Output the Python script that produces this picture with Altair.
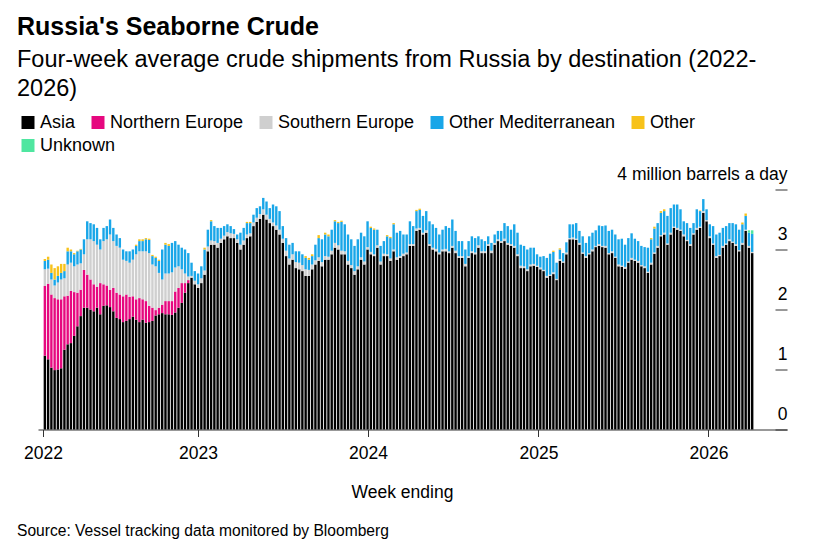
import altair as alt
import pandas as pd

# ---------------- data (million barrels a day, four-week averages) ----------------
first_week = "2022-02-06"   # week ending dates, weekly

series_names = ["Asia", "Northern Europe", "Southern Europe",
                "Other Mediterranean", "Other", "Unknown"]
series_colors = ["#000000", "#e6087f", "#cfcfcf", "#19a6e8", "#f7c21a", "#4fe6a0"]

asia = [
    1.23, 1.17, 1.03, 0.99, 1.00, 1.02, 1.33, 1.42, 1.44, 1.56,
    1.72, 1.89, 2.03, 2.03, 2.00, 1.97, 2.03, 1.92, 2.06, 2.07,
    2.04, 1.97, 1.86, 1.84, 1.79, 1.81, 1.84, 1.88, 1.83, 1.79,
    1.83, 1.78, 1.79, 1.81, 1.90, 1.92, 1.94, 1.92, 1.92, 1.91,
    1.95, 2.03, 2.11, 2.28, 2.44, 2.53, 2.42, 2.36, 2.44, 2.58,
    2.97, 3.08, 3.08, 3.03, 3.11, 3.17, 3.22, 3.19, 3.19, 3.11,
    3.00, 3.08, 3.19, 3.22, 3.39, 3.46, 3.51, 3.58, 3.50, 3.44,
    3.39, 3.33, 3.25, 3.11, 2.89, 2.75, 2.83, 2.69, 2.67, 2.64,
    2.56, 2.56, 2.67, 2.75, 2.81, 2.72, 2.83, 2.83, 2.92, 3.03,
    3.00, 2.92, 2.92, 2.75, 2.69, 2.58, 2.67, 2.83, 2.75, 3.00,
    2.92, 2.89, 3.03, 2.75, 2.89, 2.89, 2.81, 2.97, 2.83, 2.86,
    2.89, 2.92, 3.06, 3.06, 3.31, 3.33, 3.25, 3.28, 3.06, 3.00,
    2.97, 2.92, 2.97, 2.97, 2.94, 3.03, 2.94, 2.86, 2.86, 2.72,
    2.86, 2.94, 2.92, 3.03, 2.94, 2.94, 3.06, 2.94, 3.08, 3.14,
    3.11, 3.14, 3.08, 3.06, 3.03, 2.89, 2.69, 2.69, 2.64, 2.72,
    2.73, 2.71, 2.67, 2.64, 2.53, 2.56, 2.59, 2.49, 2.81, 2.78,
    2.92, 3.17, 3.17, 3.16, 3.08, 2.93, 2.86, 2.92, 2.97, 3.04,
    3.06, 3.04, 3.03, 2.92, 2.94, 2.86, 2.72, 2.71, 2.68, 2.78,
    2.83, 2.81, 2.78, 2.72, 2.69, 2.61, 2.75, 2.93, 3.03, 3.22,
    3.25, 3.08, 3.25, 3.36, 3.33, 3.31, 3.22, 3.14, 3.06, 3.25,
    3.33, 3.36, 3.61, 3.47, 3.19, 3.08, 2.86, 2.89, 3.03, 3.08,
    3.14, 3.11, 3.06, 2.97, 3.08, 3.31, 3.03, 2.94,
]

northern_europe = [
    1.16, 1.26, 1.22, 1.20, 1.17, 1.15, 0.89, 0.81, 0.87, 0.73,
    0.56, 0.44, 0.63, 0.55, 0.50, 0.45, 0.35, 0.52, 0.36, 0.33,
    0.29, 0.39, 0.42, 0.41, 0.43, 0.44, 0.37, 0.34, 0.34, 0.40,
    0.34, 0.36, 0.27, 0.22, 0.09, 0.11, 0.14, 0.22, 0.22, 0.23,
    0.35, 0.33, 0.33, 0.16, 0.05,
] + [0.0] * 173

southern_europe = [
    0.28, 0.25, 0.25, 0.21, 0.28, 0.33, 0.30, 0.52, 0.47, 0.43,
    0.47, 0.44, 0.26, 0.59, 0.67, 0.72, 0.70, 0.56, 0.72, 0.77,
    0.92, 0.78, 0.78, 0.78, 0.61, 0.56, 0.57, 0.61, 0.75, 0.78,
    0.80, 0.83, 0.88, 0.72, 0.73, 0.58, 0.42, 0.46, 0.46, 0.48,
    0.40, 0.36, 0.23, 0.16, 0.06, 0.03, 0.06, 0.06, 0.08, 0.07,
    0.08, 0.07, 0.06, 0.08, 0.07, 0.06, 0.07, 0.08, 0.07, 0.06,
    0.08, 0.07, 0.06, 0.05, 0.06, 0.07, 0.08, 0.09, 0.08, 0.07,
    0.06, 0.07, 0.08, 0.07, 0.09, 0.10, 0.09, 0.10, 0.11, 0.10,
    0.11, 0.10, 0.08, 0.07, 0.06, 0.07, 0.06, 0.05, 0.06, 0.08,
    0.07, 0.06, 0.05, 0.06, 0.05, 0.06, 0.05, 0.04, 0.05, 0.04,
    0.04, 0.03, 0.04, 0.05, 0.04, 0.03, 0.04, 0.03, 0.04, 0.03,
    0.04, 0.03, 0.03, 0.03, 0.04, 0.03, 0.03, 0.04, 0.03, 0.03,
    0.04, 0.03, 0.03, 0.04, 0.03, 0.03, 0.04, 0.03, 0.03, 0.04,
    0.03, 0.03, 0.03, 0.04, 0.03, 0.03, 0.03, 0.04, 0.03, 0.03,
    0.03, 0.04, 0.03, 0.03, 0.03, 0.03, 0.04, 0.03, 0.03, 0.03,
    0.03, 0.02, 0.03, 0.02, 0.03, 0.02, 0.03, 0.02, 0.03, 0.02,
    0.03, 0.02, 0.03, 0.02, 0.03, 0.02, 0.03, 0.02, 0.03, 0.02,
    0.03, 0.02, 0.03, 0.02, 0.03, 0.02, 0.03, 0.02, 0.03, 0.02,
    0.03, 0.02, 0.03, 0.02, 0.03, 0.02, 0.03, 0.02, 0.03, 0.02,
    0.03, 0.02, 0.03, 0.02, 0.03, 0.02, 0.03, 0.02, 0.03, 0.02,
    0.03, 0.02, 0.03, 0.02, 0.03, 0.02, 0.03, 0.02, 0.03, 0.02,
    0.03, 0.02, 0.03, 0.02, 0.03, 0.02, 0.03, 0.02,
]

other_mediterranean = [
    0.14, 0.15, 0.11, 0.10, 0.11, 0.11, 0.12, 0.22, 0.19, 0.20,
    0.22, 0.23, 0.25, 0.30, 0.27, 0.28, 0.28, 0.17, 0.22, 0.22,
    0.25, 0.22, 0.19, 0.16, 0.17, 0.16, 0.19, 0.17, 0.14, 0.17,
    0.17, 0.20, 0.22, 0.14, 0.14, 0.20, 0.50, 0.48, 0.46, 0.49,
    0.44, 0.36, 0.36, 0.40, 0.39, 0.22, 0.16, 0.18, 0.20, 0.35,
    0.28, 0.32, 0.25, 0.25, 0.18, 0.16, 0.13, 0.12, 0.08, 0.08,
    0.20, 0.21, 0.19, 0.17, 0.13, 0.16, 0.13, 0.19, 0.22, 0.18,
    0.30, 0.32, 0.31, 0.21, 0.21, 0.23, 0.19, 0.18, 0.19, 0.18,
    0.19, 0.17, 0.14, 0.26, 0.32, 0.38, 0.36, 0.34, 0.35, 0.36,
    0.37, 0.48, 0.45, 0.44, 0.43, 0.42, 0.45, 0.41, 0.42, 0.43,
    0.40, 0.41, 0.26, 0.26, 0.21, 0.30, 0.34, 0.42, 0.41, 0.42,
    0.32, 0.30, 0.38, 0.30, 0.29, 0.30, 0.28, 0.32, 0.38, 0.39,
    0.35, 0.30, 0.33, 0.38, 0.39, 0.44, 0.33, 0.25, 0.25, 0.24,
    0.25, 0.25, 0.24, 0.15, 0.20, 0.17, 0.13, 0.13, 0.14, 0.14,
    0.17, 0.26, 0.28, 0.24, 0.36, 0.36, 0.35, 0.34, 0.33, 0.28,
    0.27, 0.19, 0.18, 0.23, 0.30, 0.35, 0.34, 0.27, 0.16, 0.14,
    0.17, 0.23, 0.22, 0.26, 0.20, 0.27, 0.22, 0.28, 0.28, 0.26,
    0.31, 0.33, 0.34, 0.37, 0.36, 0.37, 0.42, 0.45, 0.37, 0.39,
    0.41, 0.35, 0.33, 0.32, 0.32, 0.40, 0.39, 0.40, 0.38, 0.37,
    0.36, 0.46, 0.41, 0.37, 0.39, 0.34, 0.22, 0.28, 0.27, 0.17,
    0.31, 0.26, 0.20, 0.18, 0.20, 0.29, 0.36, 0.37, 0.30, 0.29,
    0.27, 0.31, 0.33, 0.34, 0.31, 0.23, 0.22, 0.30,
]

other = [
    0.03, 0.05, 0.14, 0.19, 0.16, 0.15, 0.12, 0.06, 0.03, 0.02,
    0.01, 0.01, 0, 0, 0, 0, 0, 0, 0, 0,
    0, 0, 0, 0, 0, 0, 0, 0, 0.02, 0.03,
    0.03, 0.02, 0.02, 0.02, 0.02, 0.02, 0, 0.03, 0.03, 0,
    0, 0, 0, 0, 0, 0, 0, 0, 0, 0.03,
    0, 0.02, 0, 0, 0, 0, 0, 0, 0, 0,
    0, 0, 0.02, 0.02, 0, 0, 0, 0, 0, 0,
    0, 0, 0, 0, 0, 0, 0, 0, 0, 0,
    0.03, 0.03, 0.03, 0, 0.05, 0, 0.03, 0.03, 0, 0.02,
    0.02, 0.02, 0, 0, 0, 0, 0, 0, 0, 0,
    0.02, 0.02, 0, 0, 0, 0.02, 0.02, 0.02, 0, 0,
    0, 0, 0, 0, 0.02, 0.02, 0, 0, 0, 0,
    0, 0, 0, 0, 0, 0, 0, 0, 0, 0,
    0, 0, 0, 0, 0, 0, 0, 0, 0, 0,
    0, 0, 0, 0, 0, 0, 0, 0, 0, 0,
    0, 0, 0, 0, 0, 0, 0.02, 0, 0.02, 0,
    0, 0, 0, 0, 0, 0, 0, 0, 0, 0,
    0, 0, 0, 0, 0, 0, 0, 0, 0, 0,
    0, 0, 0, 0, 0, 0, 0.02, 0.03, 0, 0.03,
    0.03, 0, 0, 0, 0, 0, 0, 0, 0, 0,
    0, 0.01, 0, 0, 0, 0, 0, 0, 0, 0,
    0, 0, 0, 0, 0.03, 0.04, 0, 0,
]

unknown = [0.0] * 216 + [0.04, 0.06]

year_ticks = ["2022-02-02", "2023-01-01", "2024-01-01", "2025-01-01", "2026-01-01"]
x_domain = ["2022-02-02", "2026-06-08"]
y_ticks = [0, 1, 2, 3, 4]

# ---------------- long table with stacked extents ----------------
all_series = [asia, northern_europe, southern_europe, other_mediterranean, other, unknown]
n = len(asia)
for s in all_series:
    assert len(s) == n, len(s)
weeks = pd.date_range(first_week, periods=n, freq="7D").strftime("%Y-%m-%d")
rows = []
for j, w in enumerate(weeks):
    cum = 0.0
    for k, (name, vals) in enumerate(zip(series_names, all_series)):
        v = vals[j]
        rows.append({"week": w, "dest": name, "value": v, "y0": cum, "y1": cum + v})
        cum += v
df = pd.DataFrame(rows)
df_main = df[df["dest"] != "Unknown"]
df_unknown = df[df["dest"] == "Unknown"].rename(columns={"dest": "dest2"})


def dt(s):
    y, m, d = (int(p) for p in s.split("-"))
    return alt.DateTime(year=y, month=m, date=d, utc=True)


FONT = "Liberation Sans"
W, H = 749, 240

x_enc = alt.X(
    "week:T",
    scale=alt.Scale(type="utc", domain=[dt(d) for d in x_domain]),
    axis=alt.Axis(
        values=[dt(d) for d in year_ticks],
        labelExpr="utcFormat(datum.value, '%Y')",
        title="Week ending",
        titleX=364,
        titleFontWeight="normal",
        titleFontSize=17.5,
        titlePadding=21,
        labelFontSize=17.5,
        labelPadding=8,
        tickSize=7,
        grid=False,
        domainColor="#333333",
        tickColor="#333333",
    ),
)
y_enc = alt.Y(
    "y0:Q",
    scale=alt.Scale(domain=[0, 4], nice=False),
    axis=alt.Axis(
        orient="right",
        values=y_ticks,
        offset=-12,
        tickSize=12,
        domain=False,
        grid=False,
        labelAlign="right",
        labelBaseline="alphabetic",
        labelPadding=0,
        labelOffset=-10,
        labelFontSize=17.5,
        labelExpr="datum.value == 4 ? '4 million barrels a day' : datum.label",
        title=None,
        tickColor="#333333",
    ),
)

legend_common = dict(
    title=None,
    orient="none",
    direction="horizontal",
    symbolType="square",
    symbolSize=169,
    symbolStrokeWidth=0,
    labelFontSize=18,
    labelOffset=3,
    labelLimit=400,
    columnPadding=13,
    padding=0,
)

bars = alt.Chart(df_main).mark_bar(width=2.4).encode(
    x=x_enc,
    y=y_enc,
    y2="y1:Q",
    color=alt.Color(
        "dest:N",
        scale=alt.Scale(domain=series_names[:5], range=series_colors[:5]),
        legend=alt.Legend(legendX=-19, legendY=-76, **legend_common),
    ),
)

bars_unknown = alt.Chart(df_unknown).mark_bar(width=2.4).encode(
    x=x_enc,
    y=y_enc,
    y2="y1:Q",
    fill=alt.Fill(
        "dest2:N",
        scale=alt.Scale(domain=series_names[5:], range=series_colors[5:]),
        legend=alt.Legend(legendX=-19, legendY=-53, **legend_common),
    ),
)

source = alt.Chart(alt.Data(values=[{"t": "Source: Vessel tracking data monitored by Bloomberg"}])).mark_text(
    align="left", baseline="alphabetic", fontSize=15.6, font=FONT, color="#000000"
).encode(x=alt.value(-21), y=alt.value(346), text="t:N")

chart = alt.layer(bars, bars_unknown, source).properties(
    width=W,
    height=H,
    padding={"left": 9, "top": 6.5, "right": 5, "bottom": 5},
    title=alt.TitleParams(
        text="Russia's Seaborne Crude",
        subtitle=["Four-week average crude shipments from Russia by destination (2022-", "2026)"],
        anchor="start",
        font=FONT,
        fontSize=25,
        fontWeight="bold",
        color="#000000",
        subtitleFont=FONT,
        subtitleFontSize=23.5,
        subtitleColor="#000000",
        subtitleLineHeight=29,
        subtitlePadding=8.5,
        offset=13,
    ),
).configure(
    font=FONT,
).configure_view(
    stroke=None,
).configure_axis(
    labelColor="#000000",
    titleColor="#000000",
    labelFont=FONT,
    titleFont=FONT,
).configure_legend(
    labelColor="#000000",
    labelFont=FONT,
)

chart.save("out.html", embed_options={"renderer": "svg", "actions": False})
